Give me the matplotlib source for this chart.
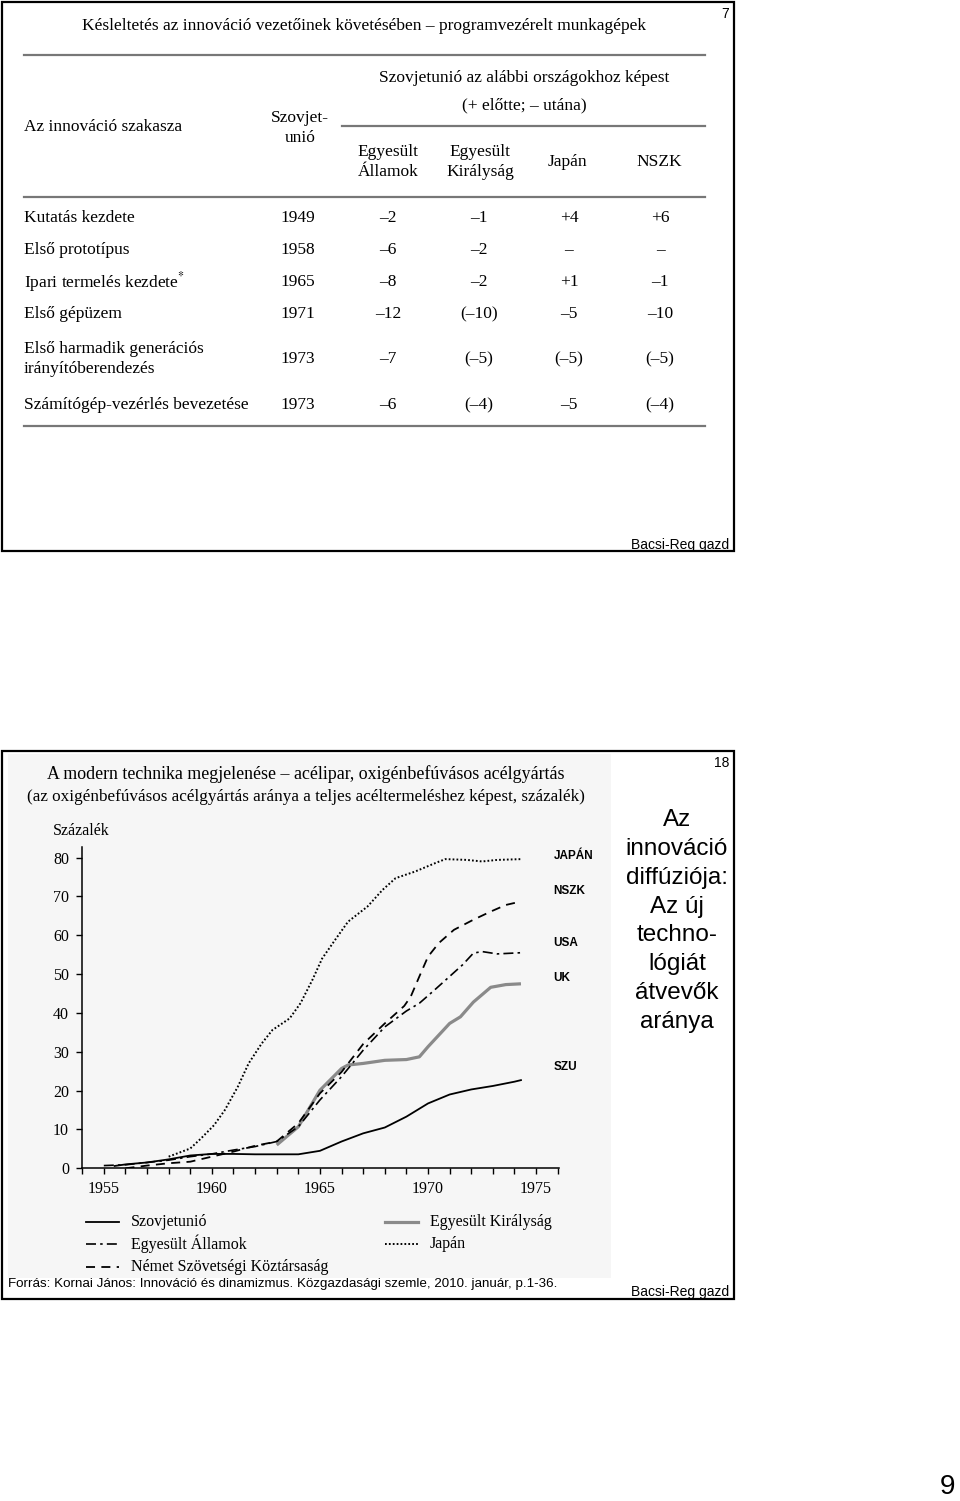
import matplotlib
matplotlib.use('Agg')
import matplotlib.pyplot as plt
from matplotlib.patches import Rectangle

plt.rcParams['mathtext.fontset'] = 'stix'
SERIF = 'Liberation Serif'
SANS = 'Liberation Sans'

# --- table (slide 7) ---
table_title = 'Késleltetés az innováció vezetőinek követésében – programvezérelt munkagépek'
stages = ['Kutatás kezdete', 'Első prototípus', r'Ipari termelés kezdete$^{*}$',
          'Első gépüzem', 'Első harmadik generációs\nirányítóberendezés',
          'Számítógép-vezérlés bevezetése']
su_year = ['1949', '1958', '1965', '1971', '1973', '1973']
vs_usa = ['–2', '–6', '–8', '–12', '–7', '–6']
vs_uk = ['–1', '–2', '–2', '(–10)', '(–5)', '(–4)']
vs_jp = ['+4', '–', '+1', '–5', '(–5)', '–5']
vs_de = ['+6', '–', '–1', '–10', '(–5)', '(–4)']

# --- chart (slide 18) ---
su_x = [1955.5, 1956, 1957, 1958, 1959, 1960, 1961, 1962, 1963, 1964, 1965, 1966,
        1967, 1968, 1969, 1970, 1971, 1972, 1973, 1974, 1974.3]
su_y = [0.6, 1.0, 1.5, 2.3, 3.3, 3.7, 3.7, 3.6, 3.6, 3.6, 4.5, 6.9,
        9.0, 10.5, 13.3, 16.7, 19.0, 20.3, 21.2, 22.3, 22.7]
us_x = [1955, 1956, 1957, 1958, 1959, 1960, 1961, 1962, 1963, 1964, 1965, 1966,
        1967, 1968, 1969, 1969.6, 1970.3, 1971, 1971.6, 1972.1, 1972.5, 1973.2, 1974.3]
us_y = [0.7, 0.9, 1.5, 2.1, 3.0, 3.7, 4.7, 5.6, 6.9, 10.7, 17.6, 23.6,
        30.4, 36.4, 40.5, 42.5, 45.9, 49.4, 52.4, 55.4, 55.8, 55.2, 55.5]
de_x = [1956, 1957, 1958, 1959, 1960, 1961, 1962, 1963, 1964, 1965, 1966, 1967,
        1968, 1968.9, 1969.2, 1969.6, 1970, 1970.5, 1971.2, 1972.1, 1972.9, 1973.6, 1974.3]
de_y = [0.0, 0.7, 1.3, 1.7, 3.0, 4.3, 5.8, 6.9, 11.6, 19.3, 24.8, 32.0,
        37.3, 41.8, 44.2, 49.4, 54.5, 58.0, 61.4, 64.0, 66.1, 67.8, 68.7]
uk_x = [1963, 1964, 1965, 1966, 1966.3, 1967, 1968, 1969, 1969.6, 1970, 1971,
        1971.5, 1972.1, 1972.9, 1973.6, 1974.3]
uk_y = [6.0, 10.7, 20.1, 25.7, 26.6, 27.0, 27.8, 28.0, 28.7, 31.3, 37.3,
        39.0, 42.8, 46.6, 47.3, 47.5]
jp_x = [1958, 1959, 1959.5, 1960.1, 1960.6, 1961.2, 1961.7, 1962.3, 1962.8, 1963.6,
        1964.1, 1964.65, 1965.1, 1965.75, 1966.3, 1967.2, 1967.9, 1968.5, 1969.4,
        1970.3, 1970.8, 1971.8, 1972.5, 1973.2, 1974.3]
jp_y = [3.0, 5.1, 7.7, 11.1, 15.0, 21.0, 27.0, 32.1, 35.6, 38.6,
        42.5, 48.5, 54.0, 59.2, 63.5, 67.4, 71.7, 74.7, 76.4,
        78.5, 79.6, 79.4, 79.0, 79.4, 79.6]
end_labels = ['JAPÁN', 'NSZK', 'USA', 'UK', 'SZU']
end_label_y = [80.5, 71.5, 58.0, 49.0, 26.0]

fig = plt.figure(figsize=(9.6, 15.01), dpi=100)
page = fig.add_axes([0, 0, 1, 1])
page.set_xlim(0, 960)
page.set_ylim(1501, 0)
page.axis('off')

# slide frames
for top, bot in [(2, 551), (751, 1299)]:
    page.add_patch(Rectangle((2, top), 732, bot - top, fill=False, lw=1.6, ec='black'))

page.text(729, 14, '7', family=SANS, fontsize=10, ha='right', va='center')
page.text(729, 545, 'Bacsi-Reg gazd', family=SANS, fontsize=10, ha='right', va='center')
page.text(729, 763, '18', family=SANS, fontsize=10, ha='right', va='center')
page.text(729, 1292, 'Bacsi-Reg gazd', family=SANS, fontsize=10, ha='right', va='center')
page.text(955, 1487, '9', family=SANS, fontsize=20, ha='right', va='center')

# table
page.text(364, 26, table_title, family=SERIF, fontsize=12.5, ha='center', va='center')
for y, x0 in [(55, 24), (126, 342), (197, 24), (426, 24)]:
    page.plot([x0, 705], [y, y], color='#777777', lw=1.6)
page.text(524, 78, 'Szovjetunió az alábbi országokhoz képest', family=SERIF,
          fontsize=12.5, ha='center', va='center')
page.text(524, 105, '(+ előtte; – utána)', family=SERIF, fontsize=12.5, ha='center', va='center')
page.text(24, 127, 'Az innováció szakasza', family=SERIF, fontsize=12.5, ha='left', va='center')
page.text(300, 128, 'Szovjet-\nunió', family=SERIF, fontsize=12.5, ha='center',
          va='center', linespacing=1.35)
page.text(388, 162, 'Egyesült\nÁllamok', family=SERIF, fontsize=12.5, ha='center',
          va='center', linespacing=1.35)
page.text(480, 162, 'Egyesült\nKirályság', family=SERIF, fontsize=12.5, ha='center',
          va='center', linespacing=1.35)
page.text(567, 162, 'Japán', family=SERIF, fontsize=12.5, ha='center', va='center')
page.text(659, 162, 'NSZK', family=SERIF, fontsize=12.5, ha='center', va='center')

row_y = [218, 250, 282, 314, 359, 405]
col_x = [298, 388, 479, 569, 660]
for i, y in enumerate(row_y):
    page.text(24, y, stages[i], family=SERIF, fontsize=12.5, ha='left', va='center',
              linespacing=1.3)
    for x, col in zip(col_x, [su_year, vs_usa, vs_uk, vs_jp, vs_de]):
        page.text(x, y, col[i], family=SERIF, fontsize=12.5, ha='center', va='center')

# chart image background
page.add_patch(Rectangle((8, 754), 603, 524, color='#f6f6f6', lw=0))
page.text(306, 774, 'A modern technika megjelenése – acélipar, oxigénbefúvásos acélgyártás',
          family=SERIF, fontsize=12.9, ha='center', va='center')
page.text(306, 797, '(az oxigénbefúvásos acélgyártás aránya a teljes acéltermeléshez képest, százalék)',
          family=SERIF, fontsize=12.3, ha='center', va='center')
page.text(53, 831, 'Százalék', family=SERIF, fontsize=11.5, ha='left', va='center')

page.text(677, 921, 'Az\ninnováció\ndiffúziója:\nAz új\ntechno-\nlógiát\nátvevők\naránya',
          family=SANS, fontsize=17.5, ha='center', va='center', linespacing=1.4)
page.text(8, 1284, 'Forrás: Kornai János: Innováció és dinamizmus. Közgazdasági szemle, 2010. január, p.1-36.',
          family=SANS, fontsize=9.6, ha='left', va='center')

# chart axes
ax = fig.add_axes([82.2 / 960, 1 - 1168.3 / 1501, (559 - 82.2) / 960, (1168.3 - 846.7) / 1501])
ax.patch.set_alpha(0)
ax.set_xlim(1954, 1976.06)
ax.set_ylim(0, 82.8)
for s in ['top', 'right']:
    ax.spines[s].set_visible(False)
for s in ['left', 'bottom']:
    ax.spines[s].set_linewidth(1.1)
ax.set_xticks([1955, 1960, 1965, 1970, 1975])
ax.set_xticks(range(1954, 1977), minor=True)
ax.set_yticks(range(0, 81, 10))
ax.tick_params(axis='both', which='both', direction='out', length=4.5, width=1.0,
               labelsize=11.5, pad=5)
for lab in ax.get_xticklabels() + ax.get_yticklabels():
    lab.set_family(SERIF)

ax.plot(uk_x, uk_y, color='#8a8a8a', lw=2.3, solid_capstyle='butt')
ax.plot(su_x, su_y, color='black', lw=1.3)
ax.plot(us_x, us_y, color='black', lw=1.2, dashes=(6, 2.5, 1.5, 2.5))
ax.plot(de_x, de_y, color='black', lw=1.3, dashes=(5, 3.5))
ax.plot(jp_x, jp_y, color='black', lw=1.4, dashes=(0.9, 1.1))

for lab, yv in zip(end_labels, end_label_y):
    ax.text(1975.8, yv, lab, family=SANS, fontweight='bold', fontsize=8.5,
            ha='left', va='center', clip_on=False)

# legend (drawn in page coordinates)
legend_rows = [(86, 131, 1222, 'Szovjetunió', dict(color='black', lw=1.3)),
               (86, 131, 1244, 'Egyesült Államok', dict(color='black', lw=1.2, dashes=(6, 2.5, 1.5, 2.5))),
               (86, 131, 1267, 'Német Szövetségi Köztársaság', dict(color='black', lw=1.3, dashes=(5, 3.5))),
               (385, 430, 1222, 'Egyesült Királyság', dict(color='#8a8a8a', lw=2.3)),
               (385, 430, 1244, 'Japán', dict(color='black', lw=1.4, dashes=(0.9, 1.1)))]
for x0, tx, y, name, style in legend_rows:
    page.plot([x0, x0 + 33], [y, y], **style)
    page.text(tx, y, name, family=SERIF, fontsize=11.5, ha='left', va='center')

fig.savefig('out.png', dpi=100)
